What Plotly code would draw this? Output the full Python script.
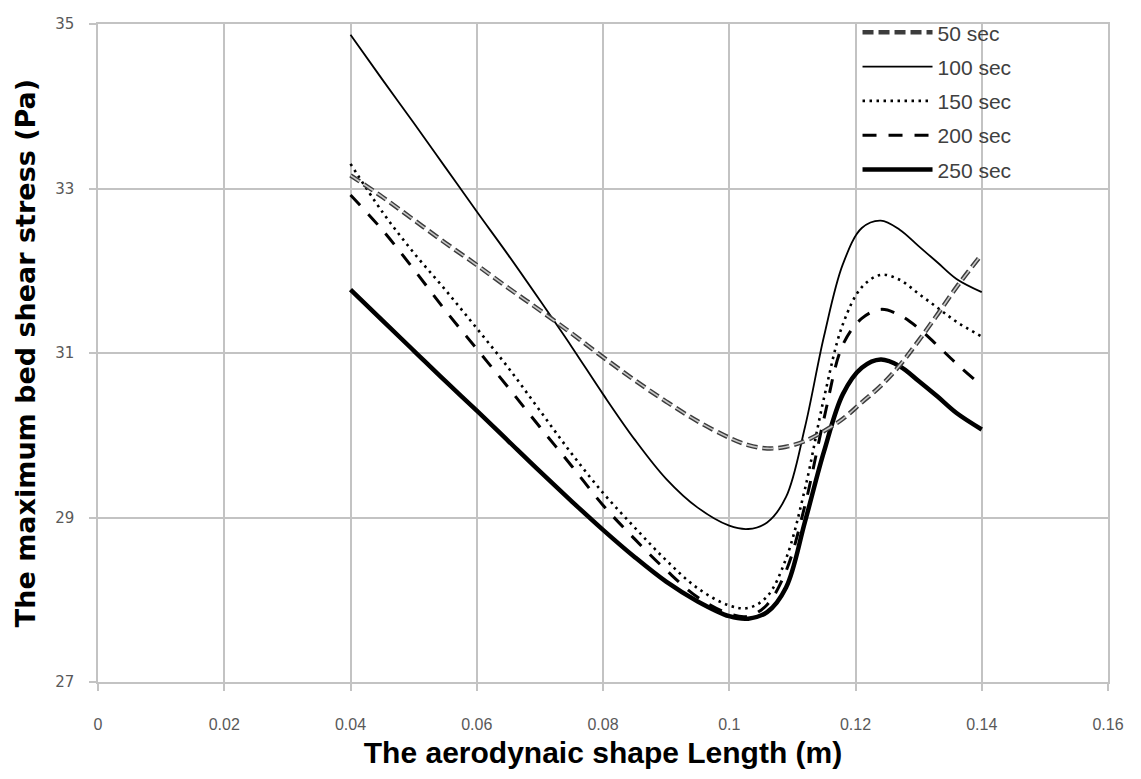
import plotly.graph_objects as go

# x positions (m)
x_len = [0.04, 0.045, 0.05, 0.055, 0.06, 0.065, 0.07, 0.075, 0.08, 0.085, 0.09, 0.095,
         0.1, 0.103, 0.106, 0.109, 0.112, 0.115, 0.118, 0.121, 0.124, 0.127, 0.13,
         0.133, 0.136, 0.14]

s50 = [33.16, 32.9, 32.62, 32.34, 32.07, 31.79, 31.52, 31.24, 30.95, 30.67, 30.41, 30.17,
       29.97, 29.88, 29.84, 29.86, 29.93, 30.05, 30.2, 30.4, 30.6, 30.85, 31.15,
       31.47, 31.8, 32.2]
s100 = [34.87, 34.33, 33.8, 33.26, 32.72, 32.19, 31.64, 31.08, 30.5, 29.95, 29.47, 29.12,
        28.9, 28.86, 28.94, 29.25, 30.1, 31.2, 32.08, 32.52, 32.61, 32.5, 32.3,
        32.1, 31.9, 31.74]
s150 = [33.3, 32.72, 32.22, 31.77, 31.3, 30.82, 30.3, 29.78, 29.3, 28.88, 28.48, 28.14,
        27.93, 27.9, 28.04, 28.5, 29.35, 30.45, 31.35, 31.8, 31.95, 31.89, 31.72,
        31.55, 31.38, 31.2]
s200 = [32.92, 32.5, 32.02, 31.52, 31.05, 30.58, 30.1, 29.63, 29.15, 28.74, 28.36, 28.03,
        27.83, 27.8, 27.94, 28.35, 29.15, 30.2, 31.1, 31.42, 31.53, 31.46, 31.3,
        31.09, 30.87, 30.6]
s250 = [31.77, 31.4, 31.03, 30.66, 30.3, 29.93, 29.56, 29.2, 28.85, 28.52, 28.22, 27.98,
        27.8, 27.77, 27.85, 28.15, 28.95, 29.8, 30.5, 30.82, 30.92, 30.84, 30.66,
        30.47, 30.27, 30.07]

series_names = ["50 sec", "100 sec", "150 sec", "200 sec", "250 sec"]

x_ticks = [0, 0.02, 0.04, 0.06, 0.08, 0.1, 0.12, 0.14, 0.16]
x_ticktext = ["0", "0.02", "0.04", "0.06", "0.08", "0.1", "0.12", "0.14", "0.16"]
y_ticks = [27, 29, 31, 33, 35]

fig = go.Figure()

def add(y, name, rank, color, width, dash, showlegend=True):
    fig.add_trace(go.Scatter(
        x=x_len, y=y, name=name, mode="lines",
        line=dict(color=color, width=width, dash=dash, shape="spline", smoothing=1.0),
        showlegend=showlegend, legendgroup=name, legendrank=rank, hoverinfo="skip"))

add(s250, series_names[4], 5, "#000000", 4.5, "solid")
add(s200, series_names[3], 4, "#000000", 3, "14px,12px")
add(s150, series_names[2], 3, "#000000", 2.6, "2.5px,4.5px")
add(s100, series_names[1], 2, "#000000", 1.8, "solid")
add(s50, series_names[0], 1, "#3c3c3c", 4.5, "11px,5px")
add(s50, series_names[0], 1, "#c8c8c8", 1.6, "11px,5px", showlegend=False)

grid = "#c3c3c3"
fig.update_layout(
    width=1141, height=779,
    margin=dict(l=98, r=33, t=20, b=97),
    paper_bgcolor="white", plot_bgcolor="white",
    showlegend=True,
    legend=dict(x=0.752, y=1.018, xanchor="left", yanchor="top", traceorder="grouped",
                bgcolor="rgba(0,0,0,0)", tracegroupgap=4, itemwidth=70,
                font=dict(family="Liberation Sans, Arial, sans-serif", size=21, color="#404040")),
    xaxis=dict(range=[0, 0.16], tickvals=x_ticks, ticktext=x_ticktext,
               showgrid=True, gridcolor=grid, gridwidth=1.5,
               showline=True, linecolor=grid, linewidth=1.5, mirror=True,
               ticks="outside", ticklen=7, tickcolor=grid, tickwidth=1.5,
               ticklabelstandoff=20, zeroline=False,
               tickfont=dict(family="Liberation Sans Narrow, Arial Narrow, sans-serif", size=16, color="#595959"),
               title=dict(text="<b>The aerodynaic shape Length (m)</b>", standoff=10,
                          font=dict(family="Liberation Sans, Arial, sans-serif", size=30, color="#000000"))),
    yaxis=dict(range=[27, 35], tickvals=y_ticks,
               showgrid=True, gridcolor=grid, gridwidth=1.5,
               showline=True, linecolor=grid, linewidth=1.5, mirror=True,
               ticks="outside", ticklen=7, tickcolor=grid, tickwidth=1.5,
               ticklabelstandoff=12, zeroline=False,
               tickfont=dict(family="DejaVu Sans, Verdana, sans-serif", size=15, color="#595959"),
               title=dict(text="<b>The maximum bed shear stress (Pa)</b>", standoff=12,
                          font=dict(family="DejaVu Sans, Verdana, sans-serif", size=27, color="#000000"))),
)

fig.write_html("out.html")
